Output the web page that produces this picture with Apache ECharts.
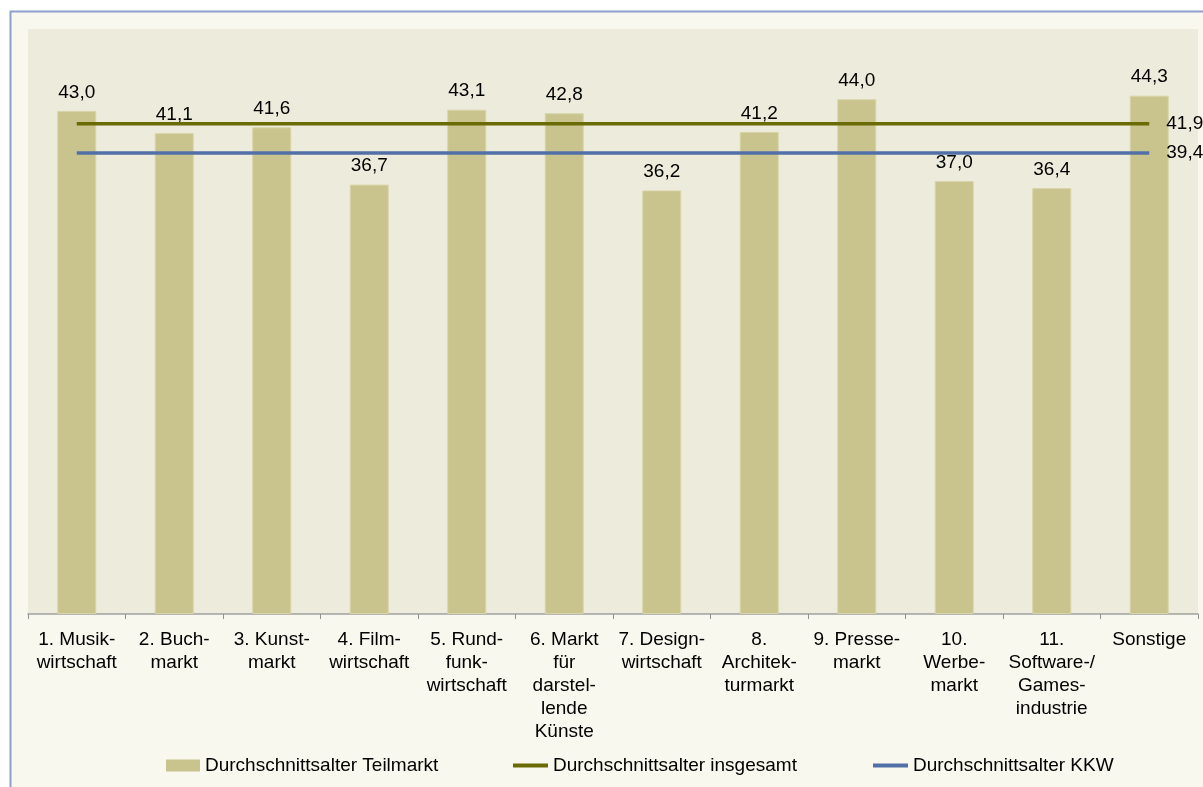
<!DOCTYPE html>
<html>
<head>
<meta charset="utf-8">
<script src="https://cdn.jsdelivr.net/npm/echarts@6/dist/echarts.min.js"></script>
<style>
  html, body { margin: 0; padding: 0; background: #fff; }
  #chart { width: 1203px; height: 787px; }
</style>
</head>
<body>
<div id="chart"></div>
<script>
const categories = [
  '1. Musik-\nwirtschaft',
  '2. Buch-\nmarkt',
  '3. Kunst-\nmarkt',
  '4. Film-\nwirtschaft',
  '5. Rund-\nfunk-\nwirtschaft',
  '6. Markt\nfür\ndarstel-\nlende\nKünste',
  '7. Design-\nwirtschaft',
  '8.\nArchitek-\nturmarkt',
  '9. Presse-\nmarkt',
  '10.\nWerbe-\nmarkt',
  '11.\nSoftware-/\nGames-\nindustrie',
  'Sonstige',
]
const teilmarkt = [43.0, 41.1, 41.6, 36.7, 43.1, 42.8, 36.2, 41.2, 44.0, 37.0, 36.4, 44.3]
const insgesamt = [41.9, 41.9, 41.9, 41.9, 41.9, 41.9, 41.9, 41.9, 41.9, 41.9, 41.9, 41.9]
const kkw = [39.4, 39.4, 39.4, 39.4, 39.4, 39.4, 39.4, 39.4, 39.4, 39.4, 39.4, 39.4]

const fmt = (v) => v.toFixed(1).replace('.', ',')
const font = 'Arial, "Liberation Sans", sans-serif'
const fs = 19

const chart = echarts.init(document.getElementById('chart'))

const legendText = { fontSize: fs, color: '#000', fontFamily: font }

chart.setOption({
  animation: false,
  textStyle: { fontFamily: font },
  graphic: [
    {
      type: 'rect',
      z: -10,
      silent: true,
      shape: { x: 10.5, y: 11.5, width: 1400, height: 1000 },
      style: { fill: '#F8F8EE', stroke: '#8CA0CC', lineWidth: 2 },
    },
  ],
  grid: {
    left: 28,
    right: 5,
    top: 29,
    bottom: 173,
    show: true,
    backgroundColor: '#EDEBDB',
    borderWidth: 0,
  },
  legend: [
    {
      data: ['Durchschnittsalter Teilmarkt'],
      left: 166,
      top: 756,
      padding: 0,
      icon: 'rect',
      itemWidth: 34,
      itemHeight: 12,
      itemStyle: { borderWidth: 0 },
      textStyle: legendText,
    },
    {
      data: ['Durchschnittsalter insgesamt'],
      left: 513,
      top: 756,
      padding: 0,
      icon: 'rect',
      itemWidth: 35,
      itemHeight: 4,
      textStyle: legendText,
    },
    {
      data: ['Durchschnittsalter KKW'],
      left: 873,
      top: 756,
      padding: 0,
      icon: 'rect',
      itemWidth: 35,
      itemHeight: 4,
      textStyle: legendText,
    },
  ],
  xAxis: {
    type: 'category',
    data: categories,
    axisLine: { lineStyle: { color: '#A0A0A0', width: 1.5 } },
    axisTick: { show: true, length: 5, lineStyle: { color: '#909090', width: 1 } },
    axisLabel: {
      interval: 0,
      fontSize: fs,
      lineHeight: 23,
      margin: 14,
      color: '#000',
      align: 'center',
    },
  },
  yAxis: {
    type: 'value',
    min: 0,
    max: 50,
    show: false,
    splitLine: { show: false },
  },
  series: [
    {
      name: 'Durchschnittsalter Teilmarkt',
      type: 'bar',
      barWidth: '40%',
      itemStyle: { color: '#C9C48E', borderColor: '#D8D4A8', borderWidth: 1 },
      label: {
        show: true,
        position: 'top',
        distance: 9,
        fontSize: fs,
        color: '#000',
        formatter: (p) => fmt(p.value),
      },
      data: teilmarkt,
    },
    {
      name: 'Durchschnittsalter insgesamt',
      type: 'line',
      symbol: 'none',
      lineStyle: { color: '#6B6B05', width: 3.5 },
      itemStyle: { color: '#6B6B05' },
      endLabel: {
        show: true,
        distance: 17,
        fontSize: fs,
        color: '#000',
        formatter: (p) => fmt(p.value),
      },
      data: insgesamt,
    },
    {
      name: 'Durchschnittsalter KKW',
      type: 'line',
      symbol: 'none',
      lineStyle: { color: '#5170A8', width: 3.5 },
      itemStyle: { color: '#5170A8' },
      endLabel: {
        show: true,
        distance: 17,
        fontSize: fs,
        color: '#000',
        formatter: (p) => fmt(p.value),
      },
      data: kkw,
    },
  ],
})
</script>
</body>
</html>
